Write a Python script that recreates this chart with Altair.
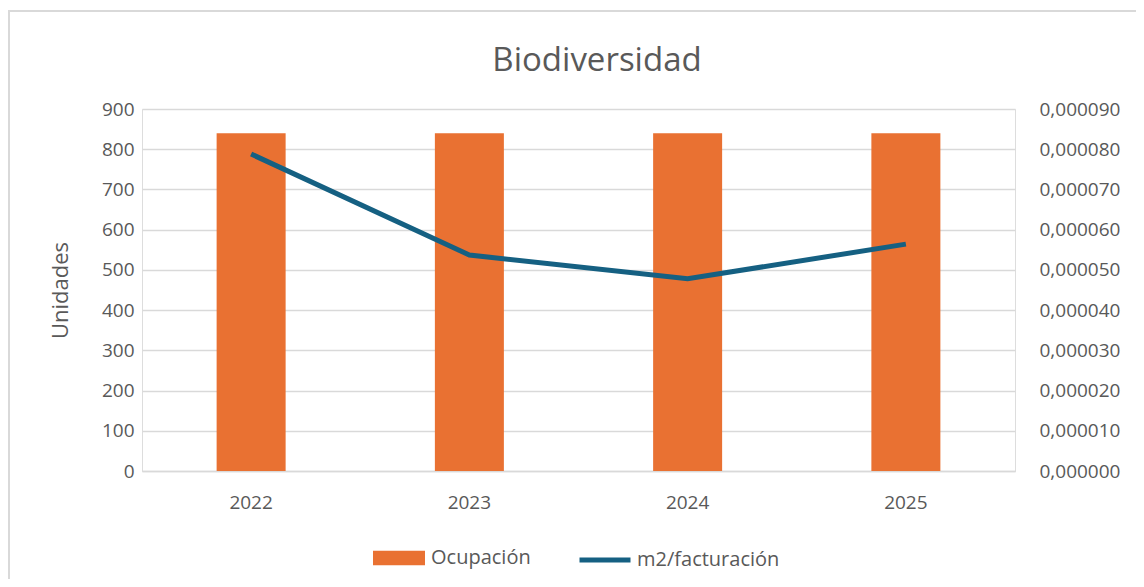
import altair as alt
import pandas as pd

years = ["2022", "2023", "2024", "2025"]
ocupacion = [840, 840, 840, 840]
m2_facturacion = [0.0000788, 0.0000537, 0.0000478, 0.0000564]
left_ticks = [0, 100, 200, 300, 400, 500, 600, 700, 800, 900]
right_ticks = [0, 0.00001, 0.00002, 0.00003, 0.00004, 0.00005, 0.00006, 0.00007, 0.00008, 0.00009]
chart_title = ["Biodiversidad"]

df = pd.DataFrame({"year": years, "ocupacion": ocupacion, "m2": m2_facturacion})

FONT = "Open Sans"
TXT = "#595959"
GRID = "#D9D9D9"
ORANGE = "#E97132"
BLUE = "#156082"

base = alt.Chart(df).encode(
    x=alt.X("year:N", title=None, sort=years,
            axis=alt.Axis(labelAngle=0, labelFontSize=19, labelColor=TXT, labelFont=FONT,
                          labelPadding=22, ticks=False, domain=True, domainColor=GRID,
                          domainWidth=1.5, grid=False))
)

bars = base.mark_bar(size=69, color=ORANGE).transform_calculate(
    s1="'Ocupación'"
).encode(
    y=alt.Y("ocupacion:Q", title="Unidades",
            scale=alt.Scale(domain=[0, 900], nice=False),
            axis=alt.Axis(values=left_ticks, labelFontSize=19, labelColor=TXT, labelFont=FONT,
                          labelPadding=8, ticks=False, domain=False, gridColor=GRID, gridWidth=1.5,
                          titleFontSize=22, titleColor=TXT, titleFont=FONT, titleFontWeight="normal",
                          titlePadding=29)),
    fill=alt.Fill("s1:N", scale=alt.Scale(domain=["Ocupación"], range=[ORANGE]),
                  legend=alt.Legend(orient="none", legendX=231, legendY=423, title=None,
                                    symbolType="M-1,-0.279H1V0.279H-1Z", symbolSize=2704,
                                    symbolStrokeWidth=0, labelFontSize=20, labelColor=TXT,
                                    labelFont=FONT, labelOffset=6)),
)

line = base.mark_line(strokeWidth=5, color=BLUE).transform_calculate(
    s2="'m2/facturación'"
).encode(
    y=alt.Y("m2:Q", title=None,
            scale=alt.Scale(domain=[0, 0.00009], nice=False),
            axis=alt.Axis(orient="right", values=right_ticks, labelFontSize=19, labelColor=TXT,
                          labelFont=FONT, labelPadding=24, ticks=False, domain=False, grid=False,
                          labelExpr="replace(format(datum.value, '.6f'), '.', ',')")),
    stroke=alt.Stroke("s2:N", scale=alt.Scale(domain=["m2/facturación"], range=[BLUE]),
                      legend=alt.Legend(orient="none", legendX=435, legendY=423, title=None,
                                        symbolType="stroke", symbolSize=2601,
                                        symbolStrokeWidth=5, labelFontSize=20, labelColor=TXT,
                                        labelFont=FONT, labelOffset=4)),
)

frame = alt.Chart(pd.DataFrame({"a": [0]})).mark_rect(
    filled=False, stroke=GRID, strokeWidth=2
).encode(
    x=alt.value(-133), x2=alt.value(1100), y=alt.value(-98), y2=alt.value(600)
)

title = alt.Chart(pd.DataFrame({"t": chart_title})).mark_text(
    fontSize=33, color=TXT, font=FONT, align="center", baseline="middle"
).encode(
    text="t:N", x=alt.value(455), y=alt.value(-48)
)

chart = alt.layer(frame, title, bars, line).resolve_scale(y="independent").properties(
    width=873, height=362,
    autosize=alt.AutoSizeParams(type="none"),
    padding={"left": 134, "top": 101, "right": 121, "bottom": 108},
).configure_view(stroke=None).configure(background="white")

chart.save("out.html", embed_options={"renderer": "svg", "actions": False})
